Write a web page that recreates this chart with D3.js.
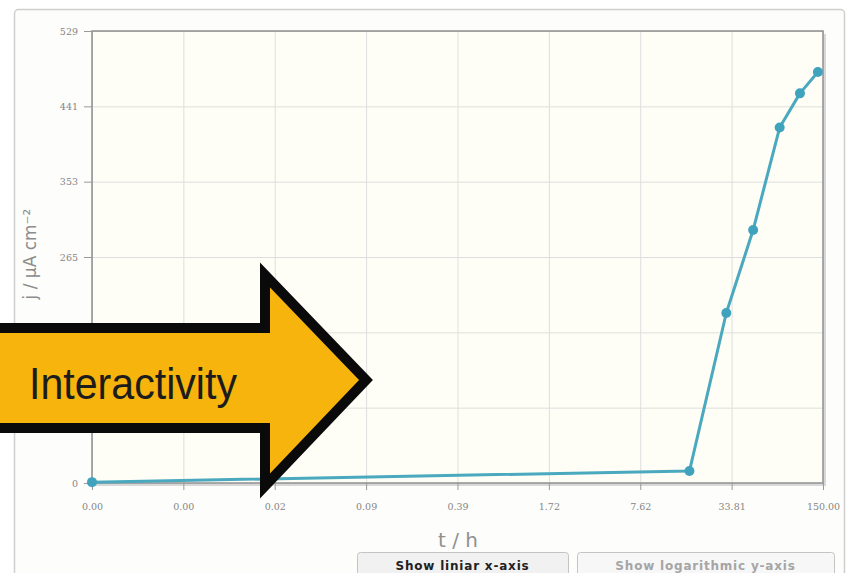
<!DOCTYPE html>
<html>
<head>
<meta charset="utf-8">
<script src="https://cdn.jsdelivr.net/npm/d3@7"></script>
<style>
  body { margin: 0; background: #fff; }
  svg { display: block; }
  .tick text { font-family: "DejaVu Serif", serif; font-size: 9.5px; fill: #858585; }
  .axis path { display: none; }
  .axis line { stroke: #999; }
  .grid line { stroke: #dedede; }
  .grid path, .grid text { display: none; }
</style>
</head>
<body>
<div id="chart"></div>
<script>
// data
let timeHours = [0.001, 17, 31, 48, 74, 103, 138];
let currentDensity = [1, 14, 199, 296, 416, 456, 481];

// axis ticks (log spaced x, even y)
let xTickValues = [0.001, 0.004434, 0.01967, 0.08727, 0.3872, 1.7177, 7.6207, 33.810, 150];
let yTickValues = [0, 88.17, 176.33, 264.5, 352.67, 440.83, 529];

let buttonLabels = ["Show liniar x-axis", "Show logarithmic y-axis"];

let W = 848, H = 573;
let margin = {top: 31, right: 25, bottom: 90, left: 92};
let width = W - margin.left - margin.right;
let height = H - margin.top - margin.bottom;

let svg = d3.select("#chart").append("svg")
    .attr("width", W)
    .attr("height", H);

// outer panel
svg.append("rect")
    .attr("x", 14.5).attr("y", 9.5)
    .attr("width", 830).attr("height", 620)
    .attr("rx", 4)
    .attr("fill", "#fdfdfb")
    .attr("stroke", "#cfcfcf")
    .attr("stroke-width", 1.5);

let g = svg.append("g")
    .attr("transform", "translate(" + margin.left + "," + margin.top + ")");

// scales
let x = d3.scaleLog()
    .domain([0.001, 150])
    .range([0, width]);

let y = d3.scaleLinear()
    .domain([0, 529])
    .range([height, 0]);

// plot background + shadow
g.append("rect")
    .attr("x", 3).attr("y", 3)
    .attr("width", width).attr("height", height)
    .attr("fill", "#d8d8d8");
g.append("rect")
    .attr("width", width).attr("height", height)
    .attr("fill", "#fefef6");

// grid
g.append("g")
    .attr("class", "grid")
    .call(d3.axisBottom(x).tickValues(xTickValues).tickSize(height).tickFormat(""));
g.append("g")
    .attr("class", "grid")
    .call(d3.axisLeft(y).tickValues(yTickValues).tickSize(-width).tickFormat(""));

// frame
g.append("rect")
    .attr("width", width).attr("height", height)
    .attr("fill", "none")
    .attr("stroke", "#8f8f8f")
    .attr("stroke-width", 1.5);

// axes
g.append("g")
    .attr("class", "x-axis axis")
    .attr("transform", "translate(0," + height + ")")
    .call(d3.axisBottom(x).tickValues(xTickValues).tickSize(7).tickPadding(13).tickFormat(d3.format(".2f")));

g.append("g")
    .attr("class", "y-axis axis")
    .call(d3.axisLeft(y).tickValues(yTickValues).tickSize(8).tickPadding(6).tickFormat(d3.format(".0f")));

// data line
let line = d3.line()
    .x((d, i) => x(timeHours[i]))
    .y(d => y(d));

g.append("path")
    .datum(currentDensity)
    .attr("d", line)
    .attr("fill", "none")
    .attr("stroke", "#4aa8bf")
    .attr("stroke-width", 3)
    .attr("stroke-linejoin", "round");

g.selectAll("circle")
    .data(currentDensity)
    .enter().append("circle")
    .attr("cx", (d, i) => x(timeHours[i]))
    .attr("cy", d => y(d))
    .attr("r", 5)
    .attr("fill", "#3fa3bd");

// axis titles
svg.append("text")
    .attr("x", 458)
    .attr("y", 547)
    .attr("text-anchor", "middle")
    .attr("font-family", "DejaVu Sans, sans-serif")
    .attr("font-size", "20px")
    .attr("fill", "#909090")
    .text("t / h");

svg.append("text")
    .attr("transform", "translate(36,254) rotate(-90)")
    .attr("text-anchor", "middle")
    .attr("font-family", "DejaVu Sans, sans-serif")
    .attr("font-size", "17px")
    .attr("fill", "#8c8c8c")
    .text("j / µA cm⁻²");

// buttons
let buttons = [{x: 357, w: 211}, {x: 577, w: 257}];
buttons.forEach(function (b, i) {
    svg.append("rect")
        .attr("x", b.x + 0.5).attr("y", 552.5)
        .attr("width", b.w).attr("height", 30)
        .attr("rx", 3)
        .attr("fill", i === 0 ? "#f1f1f1" : "#f7f7f7")
        .attr("stroke", "#c4c4c4");
    svg.append("text")
        .attr("x", b.x + b.w / 2)
        .attr("y", 570)
        .attr("text-anchor", "middle")
        .attr("font-family", "DejaVu Sans, sans-serif")
        .attr("font-weight", "bold")
        .attr("font-size", "12px")
        .attr("letter-spacing", "0.8px")
        .attr("fill", i === 0 ? "#222" : "#a5a5a5")
        .text(buttonLabels[i]);
});

// big arrow overlay
let arrowPts = [[-10, 328], [265, 328], [265, 275], [366, 380], [265, 486], [265, 428], [-10, 428]];
svg.append("path")
    .attr("d", d3.line()(arrowPts) + "Z")
    .attr("fill", "#f6b40c")
    .attr("stroke", "#0a0a0a")
    .attr("stroke-width", 10)
    .attr("stroke-linejoin", "miter");

svg.append("text")
    .attr("x", 29)
    .attr("y", 399)
    .attr("font-family", "Liberation Sans, Arial, sans-serif")
    .attr("font-size", "45px")
    .attr("textLength", 208)
    .attr("lengthAdjust", "spacingAndGlyphs")
    .attr("fill", "#1c1c1c")
    .text("Interactivity");
</script>
</body>
</html>
